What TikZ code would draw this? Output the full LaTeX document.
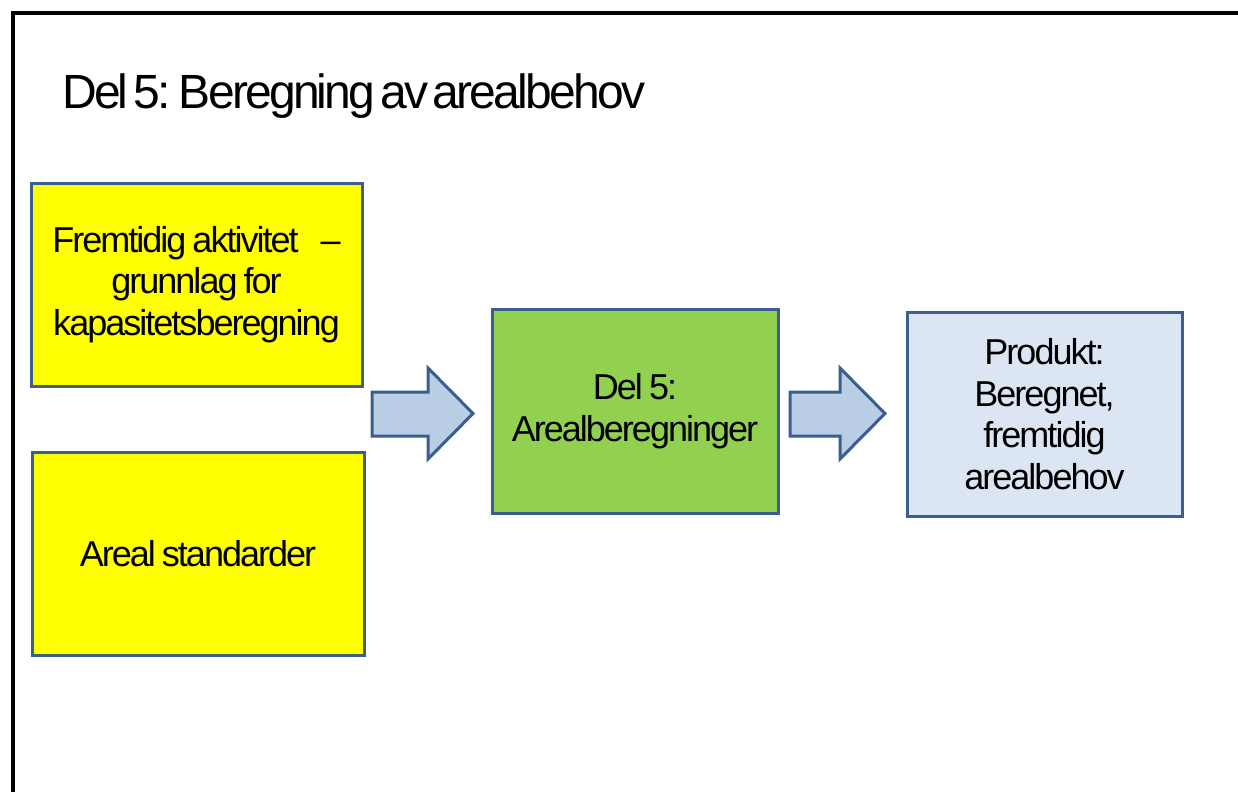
\documentclass[tikz,border=0pt]{standalone}
\usepackage{fontspec}
\setmainfont{Liberation Sans}[LetterSpace=-5.5,WordSpace=0.75]
\newfontfamily\titlefont{Liberation Sans}[LetterSpace=-5.8,WordSpace=0.45]
\definecolor{edge}{HTML}{3A5F8C}
\definecolor{arrowfill}{HTML}{B9CDE5}
\definecolor{greenfill}{HTML}{92D050}
\definecolor{bluefill}{HTML}{DCE6F2}
\definecolor{yellowfill}{HTML}{FFFF00}
\tikzset{
  box/.style={draw=edge, line width=3pt, inner sep=0pt, align=center,
    font=\fontsize{36}{41.5}\selectfont},
  blockarrow/.style={draw=edge, fill=arrowfill, line width=3pt, line join=miter},
}
\begin{document}
\begin{tikzpicture}[x=1pt,y=-1pt]
\useasboundingbox (0,0) rectangle (1238,792);
% frame
\draw[line width=4pt] (12.5,792) -- (12.5,13) -- (1238,13);
% title
\node[anchor=base west, inner sep=0pt, font=\titlefont\fontsize{48}{50}\selectfont] (title) at (62,108) {Del 5: Beregning av arealbehov};
% boxes
\node[box, fill=yellowfill, minimum width=331pt, minimum height=203pt] (in1) at (196.5,284.5) {Fremtidig aktivitet\hspace{22pt}–\\grunnlag for\\kapasitetsberegning};
\node[box, fill=yellowfill, minimum width=332pt, minimum height=203pt] (in2) at (198,553.5) {Areal standarder};
\node[box, fill=greenfill, minimum width=286pt, minimum height=204pt] (mid) at (635,411) {Del 5:\\Arealberegninger};
\node[box, fill=bluefill, minimum width=275pt, minimum height=204pt] (out) at (1044.5,414) {Produkt:\\Beregnet,\\fremtidig\\arealbehov};
% block arrows
\coordinate (a1) at (372,414);
\coordinate (a2) at (790,414);
\draw[blockarrow] (a1) ++(0,-22) -- ++(56,0) -- ++(0,-24) -- ++(45,45.5) -- ++(-45,45.5) -- ++(0,-23) -- ++(-56,0) -- cycle;
\draw[blockarrow] (a2) ++(0,-22) -- ++(50,0) -- ++(0,-24) -- ++(45,45.5) -- ++(-45,45.5) -- ++(0,-23) -- ++(-50,0) -- cycle;
\end{tikzpicture}
\end{document}
